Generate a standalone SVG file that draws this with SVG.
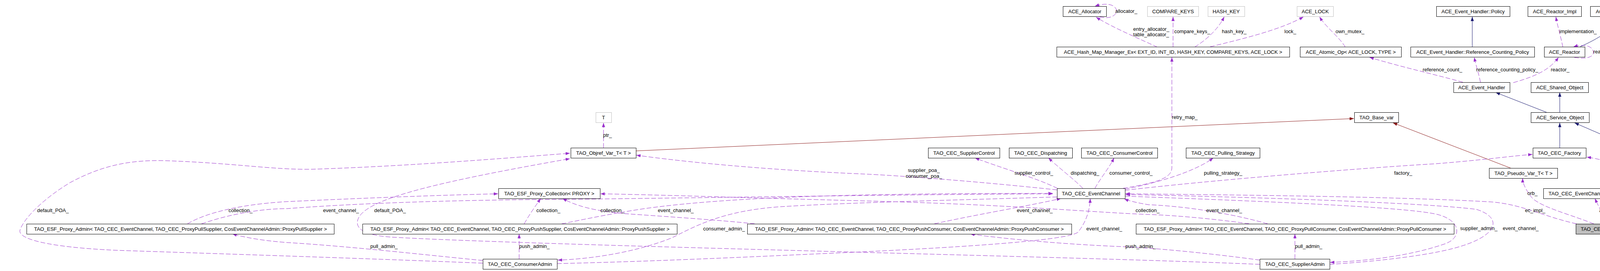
<svg xmlns="http://www.w3.org/2000/svg" width="4405" height="695" viewBox="0 0 4405 695">
<defs>
<style>
text{font-family:"Liberation Sans",Arial,sans-serif;font-size:13px;fill:#000}
.n rect{fill:#fff;stroke:#000;stroke-width:1}
.g rect{stroke:#bfbfbf}
.sel rect{fill:#bfbfbf}
.n text{text-anchor:middle}
.u{fill:none;stroke:#9a32cd;stroke-width:1;stroke-dasharray:12 5;marker-end:url(#ap)}
.i{fill:none;stroke:#191970;stroke-width:1;marker-end:url(#ab)}
.p{fill:none;stroke:#8b1a1a;stroke-width:1;marker-end:url(#ar)}
</style>
<marker id="ap" markerUnits="userSpaceOnUse" viewBox="0 0 11 8" refX="11" refY="4" markerWidth="11" markerHeight="8" orient="auto"><path d="M0,0L11,4L0,8z" fill="#9a32cd"/></marker>
<marker id="ab" markerUnits="userSpaceOnUse" viewBox="0 0 11 8" refX="11" refY="4" markerWidth="11" markerHeight="8" orient="auto"><path d="M0,0L11,4L0,8z" fill="#191970"/></marker>
<marker id="ar" markerUnits="userSpaceOnUse" viewBox="0 0 11 8" refX="11" refY="4" markerWidth="11" markerHeight="8" orient="auto"><path d="M0,0L11,4L0,8z" fill="#8b1a1a"/></marker>
</defs>
<rect width="4405" height="695" fill="#fff"/>
<g id="edges">
<path class="u" d="M2815,43 C2850,52 2864,32 2856,21 C2848,9 2825,8 2803,16"/>
<text x="2855" y="32.5">allocator_</text>
<path class="u" d="M2963,121 C2930,105 2850,72 2806,44"/>
<text x="2901" y="78.5">entry_allocator_</text>
<text x="2901" y="92.5">table_allocator_</text>
<path class="u" d="M3003,121 L3003,43"/>
<text x="3006" y="84.5">compare_keys_</text>
<path class="u" d="M3058,121 C3092,100 3120,72 3134,43"/>
<text x="3128" y="84.5">hash_key_</text>
<path class="u" d="M3098,120 C3180,100 3280,76 3337,43"/>
<text x="3288" y="84.5">lock_</text>
<path class="u" d="M3444,121 C3430,96 3394,70 3378,43"/>
<text x="3419" y="84.5">own_mutex_</text>
<path class="u" d="M3745,211 C3690,195 3580,170 3506,147"/>
<text x="3642" y="182.5">reference_count_</text>
<path class="u" d="M3790,211 C3786,190 3779,170 3774,147"/>
<text x="3779" y="182.5">reference_counting_policy_</text>
<path class="u" d="M3874,212 C3930,196 3966,180 3990,147"/>
<text x="3970" y="182.5">reactor_</text>
<path class="u" d="M4001,121 C3996,95 3988,70 3983,43"/>
<text x="3992" y="84.5">implementation_</text>
<path class="u" d="M4030,147 C4060,153 4081,146 4079,133 C4077,118 4055,112 4028,120"/>
<text x="4079" y="136.5">reactor_</text>
<path class="u" d="M2875,483 C2950,470 3000,460 3000,430 L3000,147"/>
<text x="3000" y="304.5">retry_map_</text>
<path class="u" d="M1545,379 L1545,315"/>
<text x="1544" y="350.5">ptr_</text>
<path class="u" d="M2706,487 C2500,465 2300,450 2205,446 C1950,435 1750,415 1629,398"/>
<text x="2365" y="440.5" text-anchor="middle">supplier_poa_</text>
<text x="2365" y="455.5" text-anchor="middle">consumer_poa_</text>
<path class="u" d="M2707,483 C2650,455 2560,430 2496,405"/>
<text x="2597" y="447.5">supplier_control_</text>
<path class="u" d="M2772,483 C2750,460 2710,430 2684,405"/>
<text x="2741" y="447.5">dispatching_</text>
<path class="u" d="M2803,483 C2815,460 2840,430 2852,405"/>
<text x="2840" y="447.5">consumer_control_</text>
<path class="u" d="M2880,485 C2960,470 3060,440 3106,405"/>
<text x="3082" y="447.5">pulling_strategy_</text>
<path class="u" d="M2880,488 C3100,462 3500,430 3675,420 C3800,410 3870,400 3923,396"/>
<text x="3569" y="447.5">factory_</text>
<path class="u" d="M4141,574 C4180,540 4212,520 4206,490 C4196,440 4120,410 4062,403"/>
<text x="4203" y="499.5">factory_</text>
<path class="u" d="M4113,574 C4105,550 4092,530 4083,509"/>
<text x="4094" y="543.5">attributes_</text>
<path class="u" d="M4080,574 C4020,550 3940,530 3920,505 C3905,485 3898,470 3898,457"/>
<text x="3910" y="499.5">orb_</text>
<path class="u" d="M4036,574 C3950,555 3900,525 3820,518 C3600,505 3200,500 2881,497"/>
<text x="3904" y="543.5">ec_impl_</text>
<path class="u" d="M2880,503 C3200,515 3600,530 3680,550 C3742,566 3742,610 3700,625 C3600,660 3480,670 3405,673"/>
<text x="3738" y="589.5">supplier_admin_</text>
<path class="u" d="M3404,678 C3500,672 3620,660 3700,642 C3836,612 3852,560 3780,537 C3650,520 3200,505 2882,499"/>
<text x="3847" y="589.5">event_channel_</text>
<path class="u" d="M3245,574 C3180,555 3060,530 2940,525 C2910,520 2890,515 2878,510"/>
<text x="3088" y="543.5">event_channel_</text>
<path class="u" d="M3198,574 C3100,560 3000,552 2940,550 C2800,545 2600,525 2205,515 C1900,507 1700,500 1537,497"/>
<text x="2907" y="543.5">collection_</text>
<path class="u" d="M2392,574 C2500,550 2650,525 2716,509"/>
<text x="2603" y="543.5">event_channel_</text>
<path class="u" d="M1932,574 C1850,565 1700,555 1600,548 C1510,540 1470,525 1440,509"/>
<text x="1537" y="543.5">collection_</text>
<path class="u" d="M1342,574 C1355,550 1370,530 1384,509"/>
<text x="1373" y="543.5">collection_</text>
<path class="u" d="M1438,574 C1470,568 1550,550 1650,535 C1900,500 2300,496 2695,496"/>
<text x="1684" y="543.5">event_channel_</text>
<path class="u" d="M480,574 C520,550 600,525 735,517 C1000,505 1150,500 1275,497"/>
<text x="585" y="543.5">collection_</text>
<path class="u" d="M516,574 C600,545 680,535 735,535 C1000,515 1300,512 1470,511 C1900,506 2300,499 2695,497"/>
<text x="827" y="543.5">event_channel_</text>
<path class="u" d="M1236,675 C1000,665 600,652 300,642 C120,634 40,612 52,588 C62,560 110,510 180,468 C260,425 330,410 420,412 C600,418 700,436 800,434 C1050,426 1300,405 1459,393"/>
<text x="95" y="543.5">default_POA_</text>
<path class="u" d="M3225,678 C3000,668 2500,655 2205,647 C1800,636 1200,620 1000,608 C920,602 905,580 920,555 C950,510 1100,470 1459,407"/>
<text x="958" y="543.5">default_POA_</text>
<path class="u" d="M2706,505 C2500,512 2200,518 2000,530 C1850,540 1780,580 1720,610 C1620,650 1500,665 1428,667"/>
<text x="1800" y="590.5">consumer_admin_</text>
<path class="u" d="M1426,676 C1700,670 2000,655 2205,646 C2500,632 2740,615 2760,595 C2780,570 2790,540 2791,509"/>
<text x="2781" y="590.5">event_channel_</text>
<path class="u" d="M1236,668 C1100,655 900,632 735,622 C680,618 630,610 595,600"/>
<text x="948" y="635.5">pull_admin_</text>
<path class="u" d="M1329,664 L1329,600"/>
<text x="1329" y="635.5">push_admin_</text>
<path class="u" d="M3225,667 C3100,650 2950,635 2860,632 C2700,625 2550,610 2484,600"/>
<text x="2881" y="635.5">push_admin_</text>
<path class="u" d="M3315,664 L3315,600"/>
<text x="3315" y="635.5">pull_admin_</text>
<path class="i" d="M3769,121 L3769,43"/>
<path class="i" d="M4045,120 C4090,100 4130,75 4158,43"/>
<path class="i" d="M3959,288 L3829,237"/>
<path class="i" d="M3993,288 L3993,237"/>
<path class="i" d="M3993,379 L3993,315"/>
<path class="i" d="M4298,431 L4031,315"/>
<path class="i" d="M4195,574 C4250,555 4292,520 4320,457"/>
<path class="p" d="M1628,387 L3466,304"/>
<path class="p" d="M3867,431 L3566,315"/>
</g>
<g id="n_alloc" class="n"><rect x="2721.5" y="16.5" width="111" height="26"/><text x="2777" y="34">ACE_Allocator</text></g>
<g id="n_cmp" class="n g"><rect x="2937.5" y="16.5" width="131" height="26"/><text x="3003" y="34">COMPARE_KEYS</text></g>
<g id="n_hash" class="n g"><rect x="3092.5" y="16.5" width="94" height="26"/><text x="3139" y="34">HASH_KEY</text></g>
<g id="n_lock" class="n g"><rect x="3320.5" y="16.5" width="93" height="26"/><text x="3367" y="34">ACE_LOCK</text></g>
<g id="n_policy" class="n"><rect x="3677.5" y="16.5" width="188" height="26"/><text x="3771" y="34">ACE_Event_Handler::Policy</text></g>
<g id="n_rimpl" class="n"><rect x="3911.5" y="16.5" width="137" height="26"/><text x="3980" y="34">ACE_Reactor_Impl</text></g>
<g id="n_timer" class="n"><rect x="4071.5" y="16.5" width="206" height="26"/><text x="4174" y="34">ACE_Reactor_Timer_Interface</text></g>
<g id="n_hmm" class="n"><rect x="2705.5" y="120.5" width="596" height="26"/><text x="3003" y="138">ACE_Hash_Map_Manager_Ex&lt; EXT_ID, INT_ID, HASH_KEY, COMPARE_KEYS, ACE_LOCK &gt;</text></g>
<g id="n_atomic" class="n"><rect x="3328.5" y="120.5" width="259" height="26"/><text x="3458" y="138">ACE_Atomic_Op&lt; ACE_LOCK, TYPE &gt;</text></g>
<g id="n_rcp" class="n"><rect x="3611.5" y="120.5" width="317" height="26"/><text x="3770" y="138">ACE_Event_Handler::Reference_Counting_Policy</text></g>
<g id="n_reactor" class="n"><rect x="3953.5" y="120.5" width="104" height="26"/><text x="4005" y="138">ACE_Reactor</text></g>
<g id="n_eh" class="n"><rect x="3721.5" y="211.5" width="144" height="26"/><text x="3793" y="229">ACE_Event_Handler</text></g>
<g id="n_so" class="n"><rect x="3919.5" y="211.5" width="147" height="26"/><text x="3993" y="229">ACE_Shared_Object</text></g>
<g id="n_T" class="n g"><rect x="1525.5" y="288.5" width="40" height="26"/><text x="1545" y="306">T</text></g>
<g id="n_basevar" class="n"><rect x="3467.5" y="288.5" width="113" height="26"/><text x="3524" y="306">TAO_Base_var</text></g>
<g id="n_svc" class="n"><rect x="3919.5" y="288.5" width="149" height="26"/><text x="3994" y="306">ACE_Service_Object</text></g>
<g id="n_objref" class="n"><rect x="1461.5" y="379.5" width="167" height="26"/><text x="1545" y="397">TAO_Objref_Var_T&lt; T &gt;</text></g>
<g id="n_supctl" class="n"><rect x="2376.5" y="379.5" width="183" height="26"/><text x="2468" y="397">TAO_CEC_SupplierControl</text></g>
<g id="n_disp" class="n"><rect x="2583.5" y="379.5" width="162" height="26"/><text x="2664" y="397">TAO_CEC_Dispatching</text></g>
<g id="n_conctl" class="n"><rect x="2768.5" y="379.5" width="195" height="26"/><text x="2866" y="397">TAO_CEC_ConsumerControl</text></g>
<g id="n_pull" class="n"><rect x="3036.5" y="379.5" width="189" height="26"/><text x="3131" y="397">TAO_CEC_Pulling_Strategy</text></g>
<g id="n_factory" class="n"><rect x="3924.5" y="379.5" width="136" height="26"/><text x="3992" y="397">TAO_CEC_Factory</text></g>
<g id="n_pseudo" class="n"><rect x="3812.5" y="431.5" width="175" height="26"/><text x="3900" y="449">TAO_Pseudo_Var_T&lt; T &gt;</text></g>
<g id="n_objloader" class="n"><rect x="4256.5" y="431.5" width="144" height="26"/><text x="4328" y="449">TAO_Object_Loader</text></g>
<g id="n_coll" class="n"><rect x="1276.5" y="483.5" width="260" height="26"/><text x="1406" y="501">TAO_ESF_Proxy_Collection&lt; PROXY &gt;</text></g>
<g id="n_ec" class="n"><rect x="2706.5" y="483.5" width="174" height="26"/><text x="2793" y="501">TAO_CEC_EventChannel</text></g>
<g id="n_attr" class="n"><rect x="3951.5" y="483.5" width="238" height="26"/><text x="4070" y="501">TAO_CEC_EventChannel_Attributes</text></g>
<g id="n_adm1" class="n"><rect x="68.5" y="574.5" width="787" height="26"/><text x="462" y="592">TAO_ESF_Proxy_Admin&lt; TAO_CEC_EventChannel, TAO_CEC_ProxyPullSupplier, CosEventChannelAdmin::ProxyPullSupplier &gt;</text></g>
<g id="n_adm2" class="n"><rect x="928.5" y="574.5" width="805" height="26"/><text x="1331" y="592">TAO_ESF_Proxy_Admin&lt; TAO_CEC_EventChannel, TAO_CEC_ProxyPushSupplier, CosEventChannelAdmin::ProxyPushSupplier &gt;</text></g>
<g id="n_adm3" class="n"><rect x="1913.5" y="574.5" width="830" height="26"/><text x="2328" y="592">TAO_ESF_Proxy_Admin&lt; TAO_CEC_EventChannel, TAO_CEC_ProxyPushConsumer, CosEventChannelAdmin::ProxyPushConsumer &gt;</text></g>
<g id="n_adm4" class="n"><rect x="2908.5" y="574.5" width="814" height="26"/><text x="3315" y="592">TAO_ESF_Proxy_Admin&lt; TAO_CEC_EventChannel, TAO_CEC_ProxyPullConsumer, CosEventChannelAdmin::ProxyPullConsumer &gt;</text></g>
<g id="n_loader" class="n sel"><rect x="4034.5" y="574.5" width="174" height="26"/><text x="4121" y="592">TAO_CEC_Event_Loader</text></g>
<g id="n_cadmin" class="n"><rect x="1236.5" y="664.5" width="190" height="26"/><text x="1331" y="682">TAO_CEC_ConsumerAdmin</text></g>
<g id="n_sadmin" class="n"><rect x="3225.5" y="664.5" width="179" height="26"/><text x="3315" y="682">TAO_CEC_SupplierAdmin</text></g>
</svg>
